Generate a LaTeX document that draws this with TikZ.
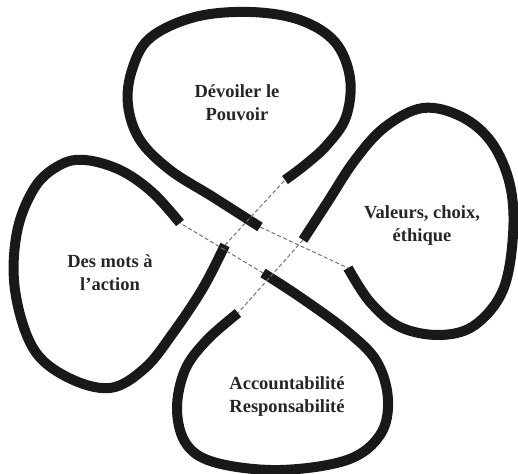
\documentclass[tikz,border=0pt]{standalone}
\usepackage{fontspec}
\setmainfont{Liberation Serif}

\begin{document}
\begin{tikzpicture}[x=0.5pt,y=-0.5pt]
    \tikzstyle{petal}=[line width=5pt, draw=black!90, line join=round]
    \tikzstyle{link}=[draw=black!55, line width=0.5pt, dash pattern=on 2pt off 1.2pt]
    \tikzstyle{leaf text}=[align=center, text=black!85, font=\fontsize{9.25}{11.5}\selectfont\bfseries]

    \useasboundingbox (0,0) rectangle (518,474);

    % petal ends: -a long leg in the centre, -b short leg
    \coordinate (top-a) at (260,227);
    \coordinate (top-b) at (285,180);
    \coordinate (right-a) at (303,240);
    \coordinate (right-b) at (348,268);
    \coordinate (bottom-a) at (263,273);
    \coordinate (bottom-b) at (238,313);
    \coordinate (left-a) at (225,245);
    \coordinate (left-b) at (180,223);

    \draw[petal] plot[smooth, tension=0.6] coordinates {(top-a) (213,197) (170,170) (140,140) (128,105) (132,70) (150,38) (195,17) (250,12) (300,20) (335,42) (350,78) (346,117) (327,145) (305,165) (top-b)};
    \draw[petal] plot[smooth, tension=0.6] coordinates {(right-a) (327,203) (355,160) (385,127) (423,108) (462,117) (492,143) (510,185) (513,235) (503,290) (475,325) (440,335) (400,327) (370,302) (right-b)};
    \draw[petal] plot[smooth, tension=0.6] coordinates {(bottom-a) (300,297) (348,332) (377,362) (388,400) (380,435) (347,460) (280,470) (217,463) (187,445) (177,410) (185,370) (207,340) (bottom-b)};
    \draw[petal] plot[smooth, tension=0.6] coordinates {(left-a) (203,288) (173,333) (145,368) (110,388) (67,377) (33,348) (15,290) (17,232) (35,187) (60,165) (85,160) (120,170) (152,192) (left-b)};

    \foreach \a/\b in {top-a/right-b, right-a/bottom-b, bottom-a/left-b, left-a/top-b}
        \draw[link] (\a) -- (\b);

    \node[leaf text] (pouvoir) at (237,103) {Dévoiler le\\Pouvoir};
    \node[leaf text] (valeurs) at (422,226) {Valeurs, choix,\\éthique};
    \node[leaf text] (action) at (110,273) {Des mots à\\l’action};
    \node[leaf text] (respons) at (287,397) {Accountabilité\\Responsabilité};
\end{tikzpicture}
\end{document}
